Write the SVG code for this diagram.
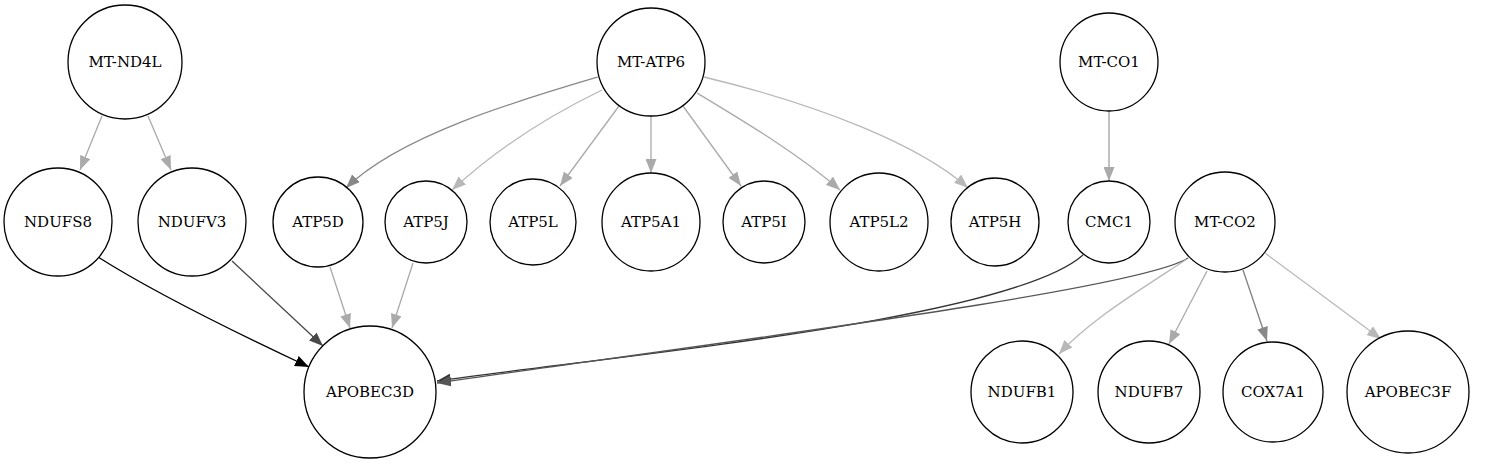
<svg xmlns="http://www.w3.org/2000/svg" width="1501" height="464" viewBox="0 0 1501 464">
<style>
.n circle{fill:#fff;stroke:#000;stroke-width:1.3}
.n text{font-family:"DejaVu Serif","Liberation Serif",serif;font-size:15px;text-anchor:middle;fill:#000}
.e path{fill:none;stroke-width:1.3}
</style>
<defs>
<marker id="a-aaa" markerUnits="userSpaceOnUse" markerWidth="15" markerHeight="11" refX="14" refY="5.5" orient="auto"><path d="M0,0 L14,5.5 L0,11 z" fill="#aaaaaa"/></marker>
<marker id="a-bbb" markerUnits="userSpaceOnUse" markerWidth="15" markerHeight="11" refX="14" refY="5.5" orient="auto"><path d="M0,0 L14,5.5 L0,11 z" fill="#b8b8b8"/></marker>
<marker id="a-888" markerUnits="userSpaceOnUse" markerWidth="15" markerHeight="11" refX="14" refY="5.5" orient="auto"><path d="M0,0 L14,5.5 L0,11 z" fill="#888888"/></marker>
<marker id="a-000" markerUnits="userSpaceOnUse" markerWidth="15" markerHeight="11" refX="14" refY="5.5" orient="auto"><path d="M0,0 L14,5.5 L0,11 z" fill="#000000"/></marker>
<marker id="a-444" markerUnits="userSpaceOnUse" markerWidth="15" markerHeight="11" refX="14" refY="5.5" orient="auto"><path d="M0,0 L14,5.5 L0,11 z" fill="#484848"/></marker>
<marker id="a-333" markerUnits="userSpaceOnUse" markerWidth="15" markerHeight="11" refX="14" refY="5.5" orient="auto"><path d="M0,0 L14,5.5 L0,11 z" fill="#333333"/></marker>
<marker id="a-555" markerUnits="userSpaceOnUse" markerWidth="15" markerHeight="11" refX="14" refY="5.5" orient="auto"><path d="M0,0 L14,5.5 L0,11 z" fill="#555555"/></marker>
</defs>
<rect width="1501" height="464" fill="#fff"/>
<g id="edges" class="e">
<path d="M102,116 L80,170" stroke="#aaaaaa" marker-end="url(#a-aaa)"/>
<path d="M148,116 L171,170" stroke="#aaaaaa" marker-end="url(#a-aaa)"/>
<path d="M598,77 C520,100 400,135 346,188" stroke="#888888" marker-end="url(#a-888)"/>
<path d="M602,90 C540,120 490,155 452,190" stroke="#b8b8b8" marker-end="url(#a-bbb)"/>
<path d="M619,106 L560,186" stroke="#aaaaaa" marker-end="url(#a-aaa)"/>
<path d="M651,116 L651,173" stroke="#aaaaaa" marker-end="url(#a-aaa)"/>
<path d="M683,106 L741,186" stroke="#aaaaaa" marker-end="url(#a-aaa)"/>
<path d="M697,93 C750,125 800,155 840,190" stroke="#aaaaaa" marker-end="url(#a-aaa)"/>
<path d="M704,77 C820,105 920,145 968,188" stroke="#b8b8b8" marker-end="url(#a-bbb)"/>
<path d="M1109,111 L1109,181" stroke="#a0a0a0" marker-end="url(#a-aaa)"/>
<path d="M98,257 C150,290 230,330 309,367" stroke="#000000" marker-end="url(#a-000)"/>
<path d="M232,261 L323,346" stroke="#484848" marker-end="url(#a-444)"/>
<path d="M330,267 L350,328" stroke="#aaaaaa" marker-end="url(#a-aaa)"/>
<path d="M413,263 L392,328" stroke="#aaaaaa" marker-end="url(#a-aaa)"/>
<path d="M1083,255 C1010,320 620,355 437,381" stroke="#333333" marker-end="url(#a-333)"/>
<path d="M1188,258 C1140,290 700,345 437,383" stroke="#555555" marker-end="url(#a-555)"/>
<path d="M1187,259 C1140,290 1090,320 1059,354" stroke="#b8b8b8" marker-end="url(#a-bbb)"/>
<path d="M1207,271 L1169,344" stroke="#aaaaaa" marker-end="url(#a-aaa)"/>
<path d="M1243,270 L1267,341" stroke="#808080" marker-end="url(#a-888)"/>
<path d="M1265,253 L1381,339" stroke="#b8b8b8" marker-end="url(#a-bbb)"/>
</g>
<g id="MT-ND4L" class="n"><circle cx="125" cy="62" r="57"/><text x="125" y="67">MT-ND4L</text></g>
<g id="MT-ATP6" class="n"><circle cx="651" cy="62" r="54"/><text x="651" y="67">MT-ATP6</text></g>
<g id="MT-CO1" class="n"><circle cx="1109" cy="62" r="49"/><text x="1109" y="67">MT-CO1</text></g>
<g id="NDUFS8" class="n"><circle cx="58" cy="222" r="54"/><text x="58" y="227">NDUFS8</text></g>
<g id="NDUFV3" class="n"><circle cx="192" cy="222" r="54"/><text x="192" y="227">NDUFV3</text></g>
<g id="ATP5D" class="n"><circle cx="318" cy="222" r="45"/><text x="318" y="227">ATP5D</text></g>
<g id="ATP5J" class="n"><circle cx="426" cy="222" r="41"/><text x="426" y="227">ATP5J</text></g>
<g id="ATP5L" class="n"><circle cx="533" cy="222" r="43"/><text x="533" y="227">ATP5L</text></g>
<g id="ATP5A1" class="n"><circle cx="651" cy="222" r="49"/><text x="651" y="227">ATP5A1</text></g>
<g id="ATP5I" class="n"><circle cx="764" cy="222" r="41"/><text x="764" y="227">ATP5I</text></g>
<g id="ATP5L2" class="n"><circle cx="879" cy="222" r="49"/><text x="879" y="227">ATP5L2</text></g>
<g id="ATP5H" class="n"><circle cx="995" cy="222" r="44"/><text x="995" y="227">ATP5H</text></g>
<g id="CMC1" class="n"><circle cx="1109" cy="222" r="41"/><text x="1109" y="227">CMC1</text></g>
<g id="MT-CO2" class="n"><circle cx="1225" cy="222" r="50"/><text x="1225" y="227">MT-CO2</text></g>
<g id="APOBEC3D" class="n"><circle cx="370" cy="392" r="66"/><text x="370" y="397">APOBEC3D</text></g>
<g id="NDUFB1" class="n"><circle cx="1022" cy="392" r="51"/><text x="1022" y="397">NDUFB1</text></g>
<g id="NDUFB7" class="n"><circle cx="1149" cy="392" r="51"/><text x="1149" y="397">NDUFB7</text></g>
<g id="COX7A1" class="n"><circle cx="1273" cy="392" r="50"/><text x="1273" y="397">COX7A1</text></g>
<g id="APOBEC3F" class="n"><circle cx="1408" cy="392" r="61"/><text x="1408" y="397">APOBEC3F</text></g>
</svg>
